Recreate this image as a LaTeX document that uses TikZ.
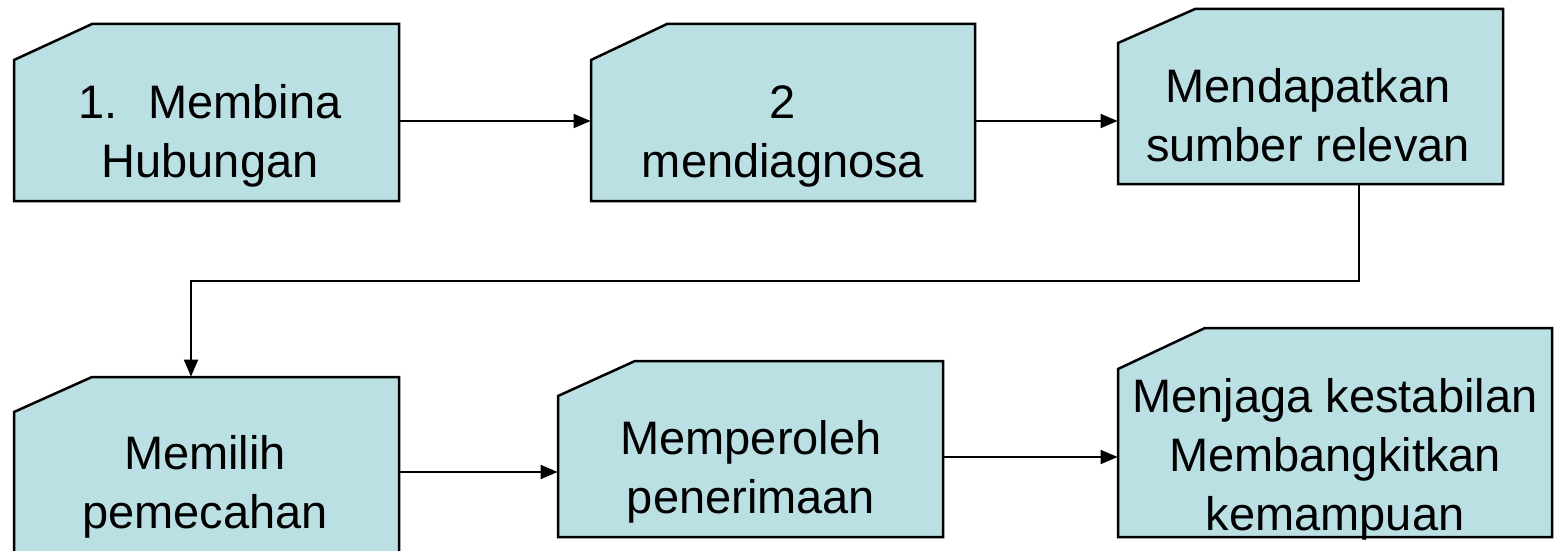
\documentclass[tikz,border=0pt]{standalone}
\usepackage{fontspec}
\setmainfont{Liberation Sans}
\usetikzlibrary{arrows.meta,fit,calc}
\definecolor{cardfill}{RGB}{187,224,228}
\newcommand\cardshape[7]{%
  \path[cardline] (#2,#5) -- (#2,{#3+#7}) -- ({#2+#6},#3) -- (#4,#3) -- (#4,#5) -- cycle;
  \node[fit={(#2,#3) (#4,#5)}, inner sep=0pt] (#1) {};
}
\begin{document}
\begin{tikzpicture}[x=0.5pt,y=-0.5pt,
  cardline/.style={fill=cardfill,draw=black,line width=1.25pt,line join=miter},
  conn/.style={draw=black,line width=1pt,-{Triangle[length=8.5pt,width=7pt]}},
  txt/.style={align=center,inner sep=0pt,font=\fontsize{23.5pt}{29.5pt}\selectfont}]
\useasboundingbox (0,0) rectangle (1558,551);
\cardshape{b1}{14}{24}{399}{201}{78}{36}
\cardshape{b2}{591}{24}{975}{201}{76}{36}
\cardshape{b3}{1118}{9}{1503}{184}{77}{34}
\cardshape{b4}{14}{377}{399}{560}{78}{35}
\cardshape{b5}{558}{361}{943}{537}{77}{35}
\cardshape{b6}{1118}{328}{1552}{537}{87}{41}
\node[txt,anchor=base] (t1) at (210,177) {1.\hspace{0.65em}Membina\\Hubungan};
\node[txt,anchor=base] (t2) at (783,177) {2\\mendiagnosa};
\node[txt,anchor=base] (t3) at (1308,162) {Mendapatkan\\sumber relevan};
\node[txt,anchor=base] (t4) at (205,528) {Memilih\\pemecahan};
\node[txt,anchor=base] (t5) at (751,513) {Memperoleh\\penerimaan};
\node[txt,anchor=base] (t6) at (1335,530) {Menjaga kestabilan\\Membangkitkan\\kemampuan};
\draw[conn] ([yshift=-4.25pt]b1.east) -- ([yshift=-4.25pt]b1.east -| b2.west);
\draw[conn] ([yshift=-4.25pt]b2.east) -- ([yshift=-4.25pt]b2.east -| b3.west);
\coordinate (m) at ($(b3.south)!0.5!(b4.north)$);
\draw[conn] ([xshift=24.25pt]b3.south) -- ([xshift=24.25pt]b3.south |- m) -- ([xshift=-7.75pt]b4.north |- m) -- ([xshift=-7.75pt]b4.north);
\draw[conn] ([yshift=-1.75pt]b4.east) -- ([yshift=-1.75pt]b4.east -| b5.west);
\draw[conn] ([yshift=-4pt]b5.east) -- ([yshift=-4pt]b5.east -| b6.west);
\end{tikzpicture}
\end{document}
